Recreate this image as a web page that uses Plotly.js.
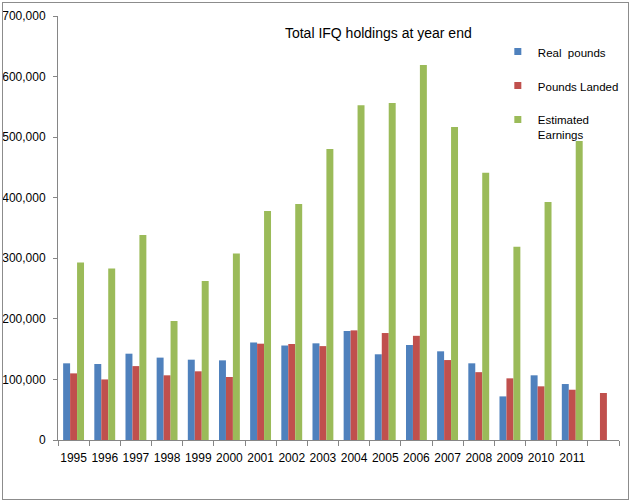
<!DOCTYPE html>
<html>
<head>
<meta charset="utf-8">
<script src="https://cdn.plot.ly/plotly-3.0.1.min.js"></script>
<style>
  html, body { margin: 0; padding: 0; background: #fff; }
  #chart { position: absolute; left: 0; top: 0; width: 634px; height: 501px; }
  #frame { position: absolute; left: 2px; top: 2px; width: 625px; height: 496px; border: 1px solid #8c8c8c; pointer-events: none; }
</style>
</head>
<body>
<div id="chart"></div>
<div id="frame"></div>
<script>
var years = ['1995','1996','1997','1998','1999','2000','2001','2002','2003','2004','2005','2006','2007','2008','2009','2010','2011','2012'];
var yearLabels = ['1995','1996','1997','1998','1999','2000','2001','2002','2003','2004','2005','2006','2007','2008','2009','2010','2011',''];
var realPounds = [126600,125500,142500,136000,132600,131500,161000,156000,159600,180000,141500,156800,146400,126600,72000,106800,92400,null];
var poundsLanded = [110000,100000,122000,106800,113400,104000,159000,158500,155000,181000,176600,172000,132000,112000,101800,88600,83000,77600];
var estimatedEarnings = [293000,283000,338500,196500,262500,308000,378000,389600,480400,552600,556400,619000,516800,441300,319000,393000,493600,null];
var seriesNames = ['Real  pounds','Pounds Landed','Estimated<br>Earnings'];
var colors = ['#4F81BD','#C0504D','#9BBB59'];
var yTicks = [0,100000,200000,300000,400000,500000,600000,700000];

var series = [realPounds, poundsLanded, estimatedEarnings];
var data = [];
series.forEach(function(vals, i) {
  data.push({
    type: 'bar', x: years, y: vals, name: seriesNames[i],
    marker: {color: colors[i], line: {width: 0}},
    showlegend: false, hoverinfo: 'x+y'
  });
});
series.forEach(function(vals, i) {
  data.push({
    type: 'scatter', mode: 'markers', x: [null], y: [null], name: seriesNames[i],
    legendgroup: 'g' + i,
    marker: {symbol: 'square', size: 7, color: colors[i]},
    showlegend: true
  });
});

var layout = {
  width: 634, height: 501,
  margin: {l: 58, r: 10, t: 16, b: 61},
  paper_bgcolor: '#fff', plot_bgcolor: '#fff',
  font: {family: '"Liberation Sans", Arial, sans-serif', size: 12, color: '#000'},
  title: {
    text: 'Total IFQ holdings at year end',
    font: {size: 14, color: '#000'},
    xref: 'paper', x: 0.571, xanchor: 'center',
    yref: 'container', y: 0.934, yanchor: 'middle'
  },
  barmode: 'group', bargap: 0.33, bargroupgap: 0,
  xaxis: {
    type: 'category', categoryorder: 'array', categoryarray: years,
    tickmode: 'array', tickvals: years, ticktext: yearLabels,
    tickson: 'boundaries', ticks: 'outside', ticklen: 5, tickcolor: '#868686',
    tickangle: 0, ticklabelstandoff: 7,
    showline: true, linecolor: '#868686', linewidth: 1,
    showgrid: false, zeroline: false, fixedrange: true,
    tickfont: {size: 12}
  },
  yaxis: {
    range: [0, 700000], tickmode: 'array', tickvals: yTicks,
    tickformat: ',d', ticks: 'outside', ticklen: 4, tickcolor: '#868686',
    ticklabelstandoff: 5,
    showline: true, linecolor: '#868686', linewidth: 1,
    showgrid: false, zeroline: false, fixedrange: true,
    tickfont: {size: 12}
  },
  legend: {
    x: 0.784, xanchor: 'left', y: 0.949, yanchor: 'top',
    bgcolor: 'rgba(0,0,0,0)', borderwidth: 0,
    traceorder: 'grouped', tracegroupgap: 15, valign: 'top',
    font: {size: 11.5, color: '#000'}
  },
  showlegend: true
};

Plotly.newPlot('chart', data, layout, {displayModeBar: false, staticPlot: true});
</script>
</body>
</html>
